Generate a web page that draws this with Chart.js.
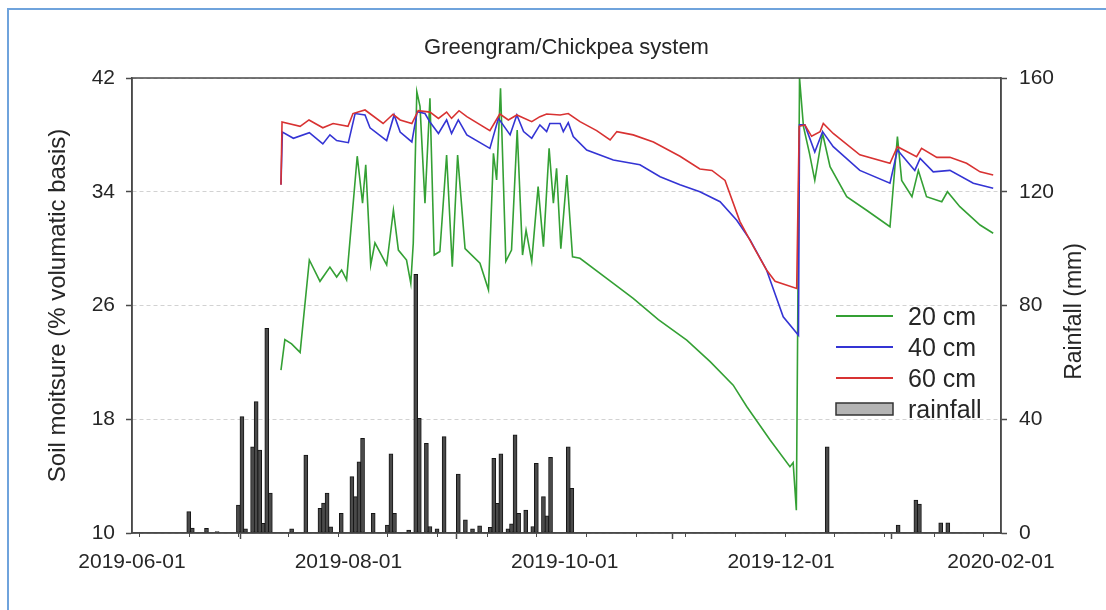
<!DOCTYPE html>
<html>
<head>
<meta charset="utf-8">
<title>Greengram/Chickpea system</title>
<script src="https://cdn.jsdelivr.net/npm/chart.js@4.4.1/dist/chart.umd.min.js"></script>
<style>
  html, body { margin: 0; padding: 0; background: #ffffff; overflow: hidden; }
  #wrap { position: relative; width: 1106px; height: 610px; overflow: hidden; }
  #frame { position: absolute; left: 7px; top: 8px; width: 1300px; height: 800px;
           border: 2px solid #6fa3dc; box-sizing: border-box; }
  #c { position: absolute; left: 0; top: 0; }
</style>
</head>
<body>
<div id="wrap">
  <div id="frame"></div>
  <canvas id="c" width="1106" height="610"></canvas>
</div>
<script>
// Day numbers count from 2019-06-01 (day 0).
const ORIGIN = Date.UTC(2019, 5, 1);
const DAY_MS = 86400000;

const dateTicks = ['2019-06-01', '2019-08-01', '2019-10-01', '2019-12-01', '2020-02-01'];
const minorTickDays = [2, 16, 30, 44, 58, 72, 86, 100, 114, 128, 142, 156, 170, 184, 198, 212, 226, 240];
const moistureTicks = [10, 18, 26, 34, 42];
const rainTicks = [0, 40, 80, 120, 160];

// Soil moisture at 20 cm (% volumetric)
const days20 = [42, 43.1, 45, 47.4, 50, 53, 55.8, 57.7, 59.1, 60.5, 63.5, 65, 65.9, 67.3, 68.5, 71.8, 73.7,
  75.1, 77.4, 78.6, 79.3, 80.3, 81.2, 82.6, 84, 85.2, 86.8, 88.7, 90.3, 91.8, 93.9, 98.1, 100.5, 101.9,
  102.8, 103.9, 105.4, 107, 108.6, 110.1, 111.1, 112.7, 114.5, 116, 117.6, 118.8, 119.7, 120.9, 122.6,
  124.2, 126.3, 135.7, 141.3, 148.4, 156.4, 163, 169.5, 173.3, 179.9, 185.5, 186.4, 187.3, 188.2, 189.3,
  191, 192.5, 194.7, 196.8, 201.5, 207.1, 213.7, 215.8, 217, 219.9, 221.7, 224, 228.3, 229.9, 233.4,
  239.1, 242.8];
const sm20 = [21.45, 23.6, 23.3, 22.7, 29.2, 27.7, 28.7, 28.0, 28.5, 27.8, 36.5, 33.2, 35.9, 28.85, 30.4, 28.85, 32.7,
  29.9, 29.2, 27.56, 30.4, 41.04, 40.0, 33.2, 40.57, 29.55, 29.8, 36.58, 28.73, 36.58, 30.0, 28.97, 27.1, 36.7,
  34.83, 41.27, 29.1, 29.9, 38.34, 29.55, 31.3, 29.1, 34.36, 30.14, 37.05, 33.2, 35.65, 30.0, 35.18,
  29.43, 29.32, 27.56, 26.5, 25.0, 23.57, 22.05, 20.4, 18.9, 16.54, 14.66, 14.95, 11.6, 42.0, 38.6,
  36.7, 34.8, 38.1, 35.76, 33.65, 32.7, 31.54, 37.88, 34.8, 33.65, 35.5, 33.65, 33.3, 34.0, 32.95,
  31.66, 31.08];

// Soil moisture at 40 cm
const days40 = [42, 42.4, 45.5, 50, 53.8, 55.8, 57.7, 61, 62.9, 65.7, 67.1, 71.8, 73.9, 75.6, 78.9, 80.4,
  82.6, 84, 86.4, 88.7, 90.1, 92, 94.4, 100.9, 103.3, 106.6, 108.5, 110.4, 112.7, 115, 116.9, 117.8,
  120.7, 121.6, 123, 124.4, 128.2, 135.7, 143.2, 148.9, 154.5, 160.1, 165.8, 170.5, 174.3, 178.9, 183.6,
  187.9, 188.2, 189.7, 192.5, 194.7, 197.7, 205.2, 213.7, 215.8, 220.7, 222.2, 225.9, 230.6, 237.2, 242.8];
const sm40 = [34.5, 38.2, 37.76, 38.15, 37.36, 38.0, 37.6, 37.45, 39.5, 39.4, 38.5, 37.6, 39.4, 38.2, 37.5, 39.63,
  39.5, 38.9, 38.1, 39.05, 38.1, 39.05, 38.0, 37.05, 39.17, 38.0, 39.4, 38.23, 37.76, 38.7, 38.23, 38.8,
  38.8, 38.23, 38.86, 37.88, 36.94, 36.23, 35.9, 35.06, 34.5, 34.0, 33.3, 32.0, 30.6, 28.5, 25.2,
  23.9, 38.7, 38.7, 36.8, 38.23, 37.17, 35.5, 34.6, 36.94, 35.5, 36.35, 35.4, 35.5, 34.6, 34.24];

// Soil moisture at 60 cm
const days60 = [42, 42.3, 47.4, 49.9, 53.8, 56.7, 60.9, 62.3, 65.7, 70.8, 73.6, 75.6, 78.9, 80.7, 84, 86.4,
  88.7, 90.1, 92.2, 94.4, 100.9, 103.7, 106.1, 108.5, 112.7, 115, 116.9, 120.7, 123, 126.3, 131, 134.8,
  136.7, 141.3, 147, 154.5, 160.1, 163.5, 167.2, 171.4, 175.2, 178.9, 181.3, 187.4, 188.1, 189.7, 191.6,
  194, 194.9, 197.7, 205.2, 213.7, 215.8, 221.2, 222.6, 226.9, 230.6, 235.3, 239.1, 242.8];
const sm60 = [34.5, 38.9, 38.6, 39.05, 38.5, 38.8, 38.6, 39.5, 39.75, 38.8, 39.45, 39.05, 38.8, 39.7, 39.6, 39.16,
  39.6, 39.16, 39.7, 39.28, 38.3, 39.47, 39.05, 39.4, 38.93, 39.28, 39.47, 39.4, 39.5, 38.93, 38.3, 37.64,
  38.23, 38.0, 37.5, 36.5, 35.6, 35.5, 34.8, 31.9, 30.14, 28.5, 27.7, 27.2, 38.6, 38.7, 37.9,
  38.23, 38.8, 38.1, 36.6, 36.0, 37.17, 36.47, 37.05, 36.42, 36.42, 36.0, 35.4, 35.18];

// Daily rainfall (mm)
const rainDays = [16, 17, 21, 24, 30, 31, 32, 34, 35, 36, 37, 38, 39, 45, 49, 53, 54, 55, 56, 59, 62, 63, 64, 65,
  68, 72, 73, 74, 78, 80, 81, 83, 84, 86, 88, 92, 94, 96, 98, 101, 102, 103, 104, 106, 107, 108, 109, 111,
  113, 114, 116, 117, 118, 123, 124, 196, 216, 221, 222, 228, 230];
const rainMm = [7.5, 1.7, 1.6, 0.5, 9.8, 40.9, 1.5, 30.3, 46.2, 29.2, 3.4, 72, 14, 1.5, 27.4, 8.7, 10.5, 14, 2.2, 6.9, 19.8, 12.8, 25, 33.3,
  6.9, 2.8, 27.8, 6.9, 1, 91, 40.3, 31.5, 2.3, 1.5, 33.9, 20.7, 4.6, 1.5, 2.5, 2, 26.3, 10.4, 27.8, 1.5, 3.2, 34.5, 6.9, 8.1,
  2.3, 24.5, 12.8, 6, 26.6, 30.3, 15.7, 30.3, 2.8, 11.6, 10.2, 3.6, 3.6];

const FONT = '"Liberation Sans", Arial, Helvetica, sans-serif';
const TEXT = '#262626';
const AXIS = '#4a4a4a';
const GREEN = '#34a034';
const BLUE = '#3434d4';
const RED = '#d83232';

function dayOf(iso) {
  const [y, m, d] = iso.split('-').map(Number);
  return Math.round((Date.UTC(y, m - 1, d) - ORIGIN) / DAY_MS);
}
function isoOf(day) {
  return new Date(ORIGIN + day * DAY_MS).toISOString().slice(0, 10);
}
function points(xs, ys) {
  return xs.map((x, i) => ({ x: x, y: ys[i] }));
}
const tickDays = dateTicks.map(dayOf);

// Box around the plotting area
const framePlugin = {
  id: 'frame',
  afterDatasetsDraw(chart) {
    const { ctx, chartArea: a } = chart;
    ctx.save();
    ctx.strokeStyle = AXIS;
    ctx.lineWidth = 1.5;
    ctx.strokeRect(a.left, a.top, a.right - a.left, a.bottom - a.top);
    ctx.restore();
  }
};

// Short minor ticks under the date axis
const minorTickPlugin = {
  id: 'minorTicks',
  afterDraw(chart) {
    const { ctx, chartArea: a } = chart;
    const xs = chart.scales.x;
    ctx.save();
    ctx.strokeStyle = AXIS;
    ctx.lineWidth = 1;
    minorTickDays.forEach(d => {
      const px = Math.round(xs.getPixelForValue(d)) + 0.5;
      ctx.beginPath();
      ctx.moveTo(px, a.bottom);
      ctx.lineTo(px, a.bottom + 4);
      ctx.stroke();
    });
    ctx.restore();
  }
};

// Right-hand axis title, reading bottom to top like the left one
const rightTitlePlugin = {
  id: 'rightTitle',
  afterDraw(chart) {
    const { ctx, chartArea: a } = chart;
    ctx.save();
    ctx.translate(1075, (a.top + a.bottom) / 2 + 6);
    ctx.rotate(-Math.PI / 2);
    ctx.font = '23px ' + FONT;
    ctx.fillStyle = TEXT;
    ctx.textAlign = 'center';
    ctx.textBaseline = 'middle';
    ctx.fillText('Rainfall (mm)', 0, 0);
    ctx.restore();
  }
};

// Legend placed inside the plotting area, lower right of the curves
const insideLegendPlugin = {
  id: 'insideLegend',
  afterDraw(chart) {
    const { ctx, chartArea: a } = chart;
    const x0 = a.right - 165, x1 = a.right - 108, tx = a.right - 93;
    const y0 = a.top + 238, step = 31;
    ctx.save();
    ctx.font = '25px ' + FONT;
    ctx.textBaseline = 'middle';
    ctx.textAlign = 'left';
    chart.data.datasets.forEach((ds, i) => {
      const y = y0 + i * step;
      if (ds.type === 'bar') {
        ctx.fillStyle = '#b4b4b4';
        ctx.fillRect(x0, y - 6, x1 - x0, 12);
        ctx.strokeStyle = '#333333';
        ctx.lineWidth = 1.5;
        ctx.strokeRect(x0, y - 6, x1 - x0, 12);
      } else {
        ctx.strokeStyle = ds.borderColor;
        ctx.lineWidth = 2;
        ctx.beginPath();
        ctx.moveTo(x0, y);
        ctx.lineTo(x1, y);
        ctx.stroke();
      }
      ctx.fillStyle = TEXT;
      ctx.fillText(ds.label, tx, y + 2);
    });
    ctx.restore();
  }
};

const lineStyle = { type: 'line', pointRadius: 0, borderWidth: 1.6, tension: 0, fill: false, yAxisID: 'y' };

new Chart(document.getElementById('c'), {
  type: 'line',
  data: {
    datasets: [
      Object.assign({ label: '20 cm', data: points(days20, sm20), borderColor: GREEN, order: 3 }, lineStyle),
      Object.assign({ label: '40 cm', data: points(days40, sm40), borderColor: BLUE, order: 2 }, lineStyle),
      Object.assign({ label: '60 cm', data: points(days60, sm60), borderColor: RED, order: 1 }, lineStyle),
      {
        type: 'bar', label: 'rainfall', data: points(rainDays, rainMm), yAxisID: 'y2', order: 4,
        backgroundColor: '#4a4a4a', borderColor: '#151515', borderWidth: 1, barThickness: 4,
        grouped: false, borderSkipped: false
      }
    ]
  },
  options: {
    responsive: false,
    animation: false,
    devicePixelRatio: 1,
    layout: { padding: 0 },
    plugins: {
      legend: { display: false },
      tooltip: { enabled: false },
      title: {
        display: true,
        fullSize: false,
        text: 'Greengram/Chickpea system',
        color: TEXT,
        font: { family: FONT, size: 22, weight: 'normal' },
        padding: { top: 35, bottom: 16.6 }
      }
    },
    scales: {
      x: {
        type: 'linear',
        min: tickDays[0],
        max: tickDays[tickDays.length - 1],
        offset: false,
        afterBuildTicks: s => { s.ticks = tickDays.map(v => ({ value: v })); },
        afterFit: s => { s.height = 77; },
        ticks: {
          autoSkip: false, maxRotation: 0, padding: 11, color: TEXT,
          font: { family: FONT, size: 21 },
          callback: v => isoOf(v)
        },
        grid: { drawOnChartArea: false, drawTicks: true, tickLength: 6, tickColor: AXIS, tickWidth: 1.5 },
        border: { display: true, color: AXIS, width: 1.5 }
      },
      y: {
        position: 'left',
        min: moistureTicks[0],
        max: moistureTicks[moistureTicks.length - 1],
        afterBuildTicks: s => { s.ticks = moistureTicks.map(v => ({ value: v })); },
        afterFit: s => { s.width = 132; },
        ticks: { padding: 11, color: TEXT, font: { family: FONT, size: 21 } },
        grid: { color: '#d2d2d2', lineWidth: 1, drawTicks: true, tickLength: 6, tickColor: AXIS, tickWidth: 1.5 },
        border: { display: true, color: AXIS, width: 1.5, dash: [4, 3] },
        title: {
          display: true, text: 'Soil moitsure (% volumatic basis)', color: TEXT,
          font: { family: FONT, size: 24 }, padding: { top: 44, bottom: 0 }
        }
      },
      y2: {
        position: 'right',
        min: rainTicks[0],
        max: rainTicks[rainTicks.length - 1],
        afterBuildTicks: s => { s.ticks = rainTicks.map(v => ({ value: v })); },
        afterFit: s => { s.width = 105; },
        ticks: { padding: 12, color: TEXT, font: { family: FONT, size: 21 } },
        grid: { drawOnChartArea: false, drawTicks: true, tickLength: 6, tickColor: AXIS, tickWidth: 1.5 },
        border: { display: true, color: AXIS, width: 1.5 }
      }
    }
  },
  plugins: [framePlugin, minorTickPlugin, rightTitlePlugin, insideLegendPlugin]
});
</script>
</body>
</html>
